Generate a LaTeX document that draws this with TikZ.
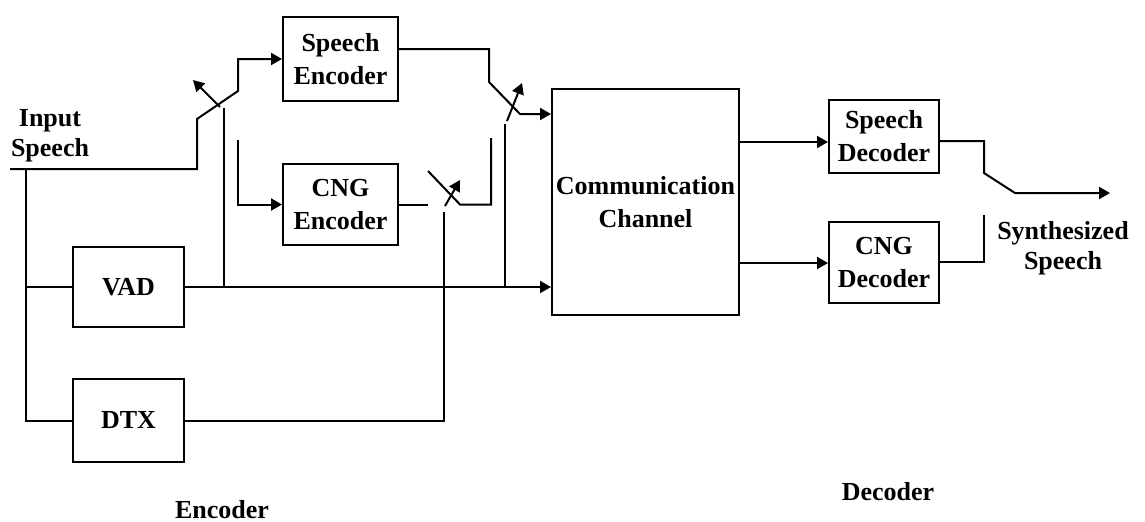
\documentclass[tikz,border=0pt]{standalone}
\usepackage{fontspec}
\setmainfont{Liberation Serif}
\usetikzlibrary{arrows.meta}
\begin{document}
\begin{tikzpicture}[x=0.5pt,y=-0.5pt,
  line width=1pt, line join=miter,
  arr/.style={-{Triangle[length=5.5pt,width=6pt]}},
  blk/.style={draw, rectangle, inner sep=0pt, align=center,
              font=\fontsize{13}{16.5}\selectfont\bfseries},
  lbl/.style={inner sep=0pt, align=center,
              font=\fontsize{13}{15}\selectfont\bfseries}]
\useasboundingbox (0,0) rectangle (1145,521);

% blocks
\node[blk, minimum width=57.5pt, minimum height=42pt]   (se)  at (340.5,59)    {Speech\\Encoder};
\node[blk, minimum width=57.5pt, minimum height=40.5pt] (ce)  at (340.5,204.5) {CNG\\Encoder};
\node[blk, minimum width=55.5pt, minimum height=40pt]   (vad) at (128.5,287)   {VAD};
\node[blk, minimum width=55.5pt, minimum height=41.5pt] (dtx) at (128.5,420.5) {DTX};
\node[blk, minimum width=93.5pt, minimum height=113pt]  (cc)  at (645.5,202)   {Communication\\Channel};
\node[blk, minimum width=55pt, minimum height=36.5pt]   (sd)  at (884,136.5)   {Speech\\Decoder};
\node[blk, minimum width=55pt, minimum height=40.5pt]   (cd)  at (884,262.5)   {CNG\\Decoder};

% labels
\node[lbl] (inlbl)  at (50,136)   {Input\\Speech};
\node[lbl] (outlbl) at (1063,248) {Synthesized\\Speech};
\node[lbl, anchor=base] (enclbl) at (222,518) {Encoder};
\node[lbl, anchor=base] (declbl) at (888,500) {Decoder};

\coordinate (in)  at (10,169);
\coordinate (out) at (1110,193);

% input path through the speech switch
\draw[arr] (in) -- (197,169) -- (197,119) -- (238,91) -- (238,59) -- (se.west);
\draw (26,169) |- (dtx.west);
\draw (26,287) -- (vad.west);

% VAD line to the channel and its control taps
\draw[arr] (vad.east) -- (cc.west |- vad.east);
\draw (224,287) -- (224,108);
\draw[arr] (220,107) -- (193,80);
\draw (505,287) -- (505,124);
\draw[arr] (507,121) -- (522,83);

% CNG encoder branch
\draw[arr] (238,140) |- (ce.west);
\draw (ce.east) -- (428,204.5);
\draw (428,171) -- (460,204.5) -- (491,204.5) -- (491,138);

% DTX control of the CNG switch
\draw (dtx.east) -- (444,420.5) -- (444,212);
\draw[arr] (445,206) -- (460,180);

% speech encoder output through its switch
\draw[arr] (se.east |- 0,49) -- (489,49) -- (489,82) -- (520,114) -- (cc.west |- 0,114);

% decoder side
\draw[arr] (cc.east |- 0,142) -- (sd.west |- 0,142);
\draw[arr] (cc.east |- 0,263) -- (cd.west |- 0,263);
\draw[arr] (sd.east |- 0,141) -- (984,141) -- (984,173) -- (1015,193) -- (out);
\draw (cd.east |- 0,262) -- (984,262) -- (984,215);
\end{tikzpicture}
\end{document}
